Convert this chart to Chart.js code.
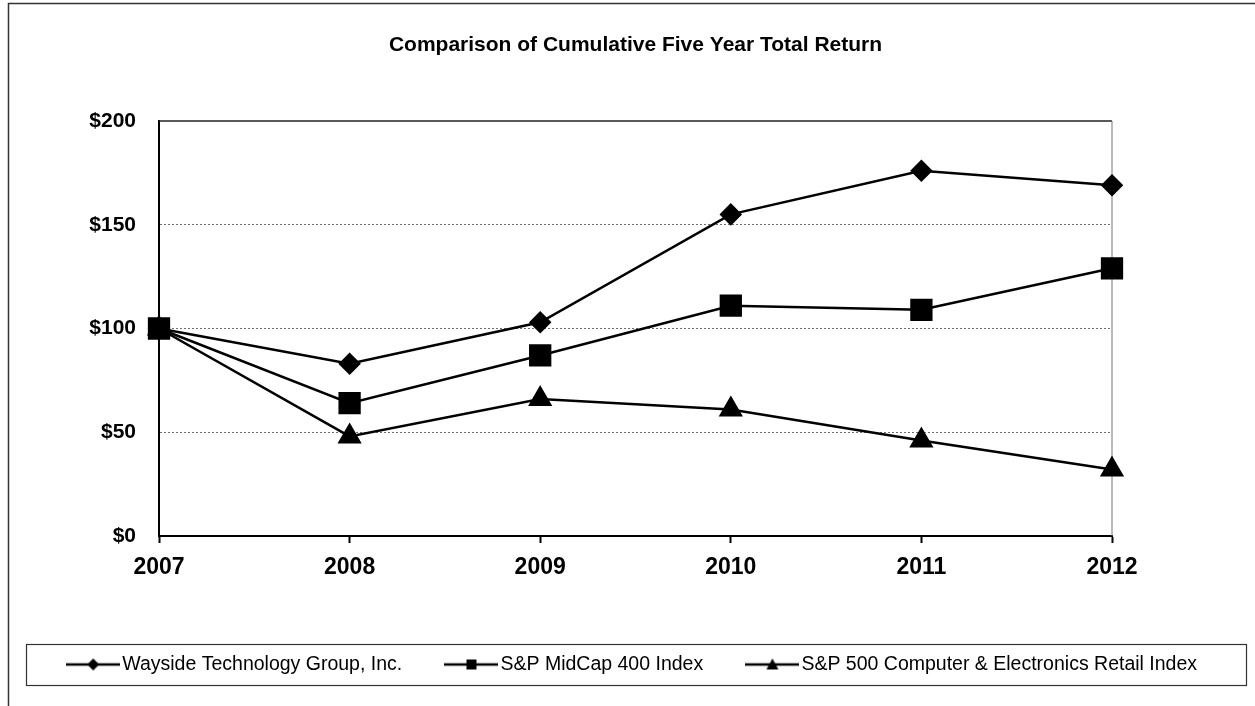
<!DOCTYPE html>
<html>
<head>
<meta charset="utf-8">
<script src="https://cdn.jsdelivr.net/npm/chart.js@4.4.0/dist/chart.umd.min.js"></script>
<style>
  html, body { margin: 0; padding: 0; background: #fff; }
</style>
</head>
<body>
<canvas id="returnChart" width="1255" height="706"></canvas>
<script>
const years = ['2007', '2008', '2009', '2010', '2011', '2012'];
const wayside = [100, 83, 103, 155, 176, 169];
const midcap = [100, 64, 87, 111, 109, 129];
const retail = [100, 48, 66, 61, 46, 32];
const seriesNames = [
    'Wayside Technology Group, Inc.',
    'S&P MidCap 400 Index',
    'S&P 500 Computer & Electronics Retail Index'
];

// little line+marker pictures for the legend
function legendIcon(kind) {
    const c = document.createElement('canvas');
    c.width = 54;
    c.height = 20;
    const g = c.getContext('2d');
    g.strokeStyle = '#000';
    g.fillStyle = '#000';
    g.lineWidth = 2.5;
    g.beginPath();
    g.moveTo(0, 10);
    g.lineTo(54, 10);
    g.stroke();
    g.beginPath();
    if (kind === 'diamond') {
        g.moveTo(27, 4); g.lineTo(33, 10); g.lineTo(27, 16); g.lineTo(21, 10);
    } else if (kind === 'square') {
        g.rect(22, 5, 10, 10);
    } else {
        g.moveTo(27, 4); g.lineTo(33, 15); g.lineTo(21, 15);
    }
    g.closePath();
    g.fill();
    return c;
}
const icons = [legendIcon('diamond'), legendIcon('square'), legendIcon('triangle')];

const framePlugin = {
    id: 'frames',
    beforeDatasetsDraw(chart) {
        const ctx = chart.ctx;
        const a = chart.chartArea;
        ctx.save();
        ctx.lineWidth = 1.5;
        ctx.strokeStyle = '#222';
        ctx.beginPath();
        ctx.moveTo(a.left, a.top);
        ctx.lineTo(a.right, a.top);
        ctx.stroke();
        ctx.lineWidth = 1;
        ctx.strokeStyle = '#777';
        ctx.beginPath();
        ctx.moveTo(a.right, a.top);
        ctx.lineTo(a.right, a.bottom);
        ctx.stroke();
        ctx.restore();
    },
    afterDraw(chart) {
        const ctx = chart.ctx;
        ctx.save();
        ctx.strokeStyle = '#333';
        ctx.lineWidth = 1.5;
        ctx.beginPath();
        ctx.moveTo(1255, 3.5);
        ctx.lineTo(8.5, 3.5);
        ctx.lineTo(8.5, 706);
        ctx.stroke();
        ctx.lineWidth = 1.2;
        ctx.strokeRect(26.5, 644.5, 1220, 41);
        ctx.restore();
    }
};

const fontFamily = "'Liberation Sans', Arial, sans-serif";

const returnChart = new Chart(document.getElementById('returnChart'), {
    type: 'line',
    data: {
        labels: years,
        datasets: [{
            label: seriesNames[0],
            data: wayside,
            borderColor: '#000',
            borderWidth: 2.5,
            pointStyle: 'rectRot',
            pointRadius: 9.5,
            pointBackgroundColor: '#000',
            pointBorderColor: '#000',
            order: 1,
            clip: false
        }, {
            label: seriesNames[1],
            data: midcap,
            borderColor: '#000',
            borderWidth: 2.5,
            pointStyle: 'rect',
            pointRadius: 14,
            pointBackgroundColor: '#000',
            pointBorderColor: '#000',
            order: 0,
            clip: false
        }, {
            label: seriesNames[2],
            data: retail,
            borderColor: '#000',
            borderWidth: 2.5,
            pointStyle: 'triangle',
            pointRadius: 11.5,
            pointBackgroundColor: '#000',
            pointBorderColor: '#000',
            order: 2,
            clip: false
        }]
    },
    options: {
        responsive: false,
        animation: false,
        layout: {
            padding: { left: 16, right: 0, top: 0, bottom: 21.75 }
        },
        scales: {
            x: {
                offset: false,
                grid: {
                    drawOnChartArea: false,
                    drawTicks: true,
                    tickLength: 7,
                    tickColor: '#000',
                    tickWidth: 2
                },
                border: { color: '#000', width: 2 },
                ticks: {
                    color: '#000',
                    padding: 11,
                    maxRotation: 0,
                    font: { family: fontFamily, size: 23, weight: 'bold' }
                },
                afterFit(scale) { scale.height = 68.75; }
            },
            y: {
                min: 0,
                max: 200,
                grid: {
                    drawTicks: false,
                    lineWidth: 1,
                    color: (c) => (c.tick && c.tick.value > 0 && c.tick.value < 200) ? '#6e6e6e' : 'rgba(0,0,0,0)'
                },
                border: { color: '#000', width: 2, dash: [2, 2] },
                ticks: {
                    stepSize: 50,
                    color: '#000',
                    padding: 23,
                    font: { family: fontFamily, size: 21, weight: 'bold' },
                    callback: (v) => '$' + v
                },
                afterFit(scale) { scale.width = 143; }
            },
            spacer: {
                type: 'linear',
                position: 'right',
                grid: { display: false },
                border: { display: false },
                ticks: { display: false },
                afterFit(scale) { scale.width = 143; }
            }
        },
        plugins: {
            title: {
                display: true,
                text: 'Comparison of Cumulative Five Year Total Return',
                color: '#000',
                font: { family: fontFamily, size: 21, weight: 'bold' },
                padding: { top: 32.4, bottom: 63.4 }
            },
            legend: {
                position: 'bottom',
                labels: {
                    color: '#000',
                    font: { family: fontFamily, size: 19.5 },
                    usePointStyle: true,
                    pointStyleWidth: 38.5,
                    padding: 50,
                    sort: (a, b) => a.datasetIndex - b.datasetIndex,
                    generateLabels(chart) {
                        const items = Chart.defaults.plugins.legend.labels.generateLabels(chart);
                        items.forEach((it) => { it.pointStyle = icons[it.datasetIndex]; });
                        return items;
                    }
                }
            },
            tooltip: { enabled: false }
        }
    },
    plugins: [framePlugin]
});
</script>
</body>
</html>
